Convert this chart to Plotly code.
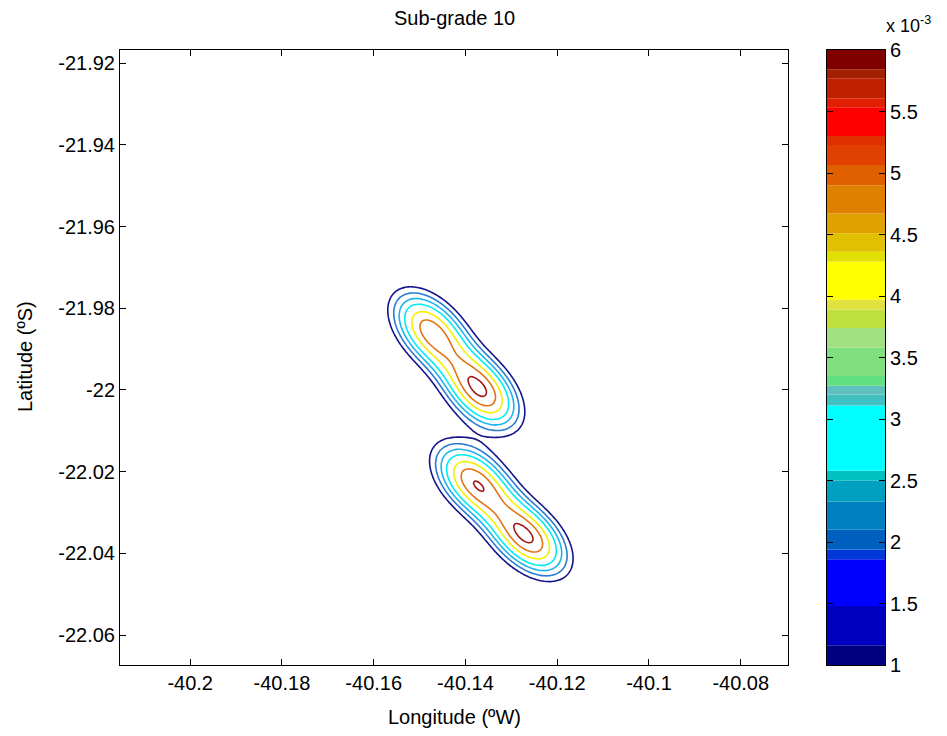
import numpy as np
import plotly.graph_objects as go

# ---------------- data ----------------
# density kernels (centre lon/lat, weight) of the two patches
lobe_lon = [-40.14771, -40.142155, -40.13660, -40.13813, -40.13225, -40.12637]
lobe_lat = [-21.98534, -21.99282, -22.00030, -22.02233, -22.02929, -22.03625]
lobe_amp = [5.13e-3, 0.80e-3, 5.70e-3, 5.42e-3, 0.72e-3, 5.66e-3]
lobe_blob = [0, 0, 0, 1, 1, 1]
sigma_along = 0.0069
sigma_across = 0.0041

contour_levels = [1.12e-3, 1.68e-3, 2.31e-3, 3.03e-3, 4.0e-3, 4.95e-3, 5.9e-3]
contour_colors = ["#14148c", "#2a7cd0", "#1cb4ec", "#00ecf0",
                  "#f2f200", "#e27412", "#a01818"]

cb_edges = [1.0, 1.16, 1.48, 1.86, 1.94, 2.10, 2.33, 2.50, 2.58, 3.11, 3.20,
            3.27, 3.35, 3.58, 3.74, 3.89, 3.97, 4.28, 4.36, 4.51, 4.67, 4.90,
            5.065, 5.228, 5.30, 5.534, 5.607, 5.77, 5.843, 6.0]
cb_colors = ["#000080", "#0000c0", "#0000ff", "#0038d8", "#0060c0", "#0080c0",
             "#00a0c0", "#00c0c0", "#00ffff", "#40c0c0", "#60c0c0", "#60e080",
             "#80e080", "#a0e080", "#c0e040", "#e0e040", "#ffff00", "#e0e000",
             "#e0c000", "#e0a000", "#e08000", "#e06000", "#e04000", "#e03000",
             "#ff0000", "#e02000", "#c02000", "#a02000", "#800000"]
cb_tickvals = [1, 1.5, 2, 2.5, 3, 3.5, 4, 4.5, 5, 5.5, 6]
cb_ticktext = ["1", "1.5", "2", "2.5", "3", "3.5", "4", "4.5", "5", "5.5", "6"]

x_tickvals = [-40.2, -40.18, -40.16, -40.14, -40.12, -40.1, -40.08]
x_ticktext = ["-40.2", "-40.18", "-40.16", "-40.14", "-40.12", "-40.1", "-40.08"]
y_tickvals = [-21.92, -21.94, -21.96, -21.98, -22.0, -22.02, -22.04, -22.06]
y_ticktext = ["-21.92", "-21.94", "-21.96", "-21.98", "-22", "-22.02", "-22.04", "-22.06"]

x_range = [-40.2153, -40.0697]
y_range = [-22.0673, -21.9168]

# ---------------- density field ----------------
lon = np.linspace(x_range[0], x_range[1], 360)
lat = np.linspace(y_range[0], y_range[1], 370)
LON, LAT = np.meshgrid(lon, lat)
Z = np.zeros_like(LON)
for blob in sorted(set(lobe_blob)):
    idx = [i for i, b in enumerate(lobe_blob) if b == blob]
    dx = lobe_lon[idx[-1]] - lobe_lon[idx[0]]
    dy = lobe_lat[idx[-1]] - lobe_lat[idx[0]]
    n = np.hypot(dx, dy)
    ex, ey = dx / n, dy / n
    for i in idx:
        du = LON - lobe_lon[i]
        dv = LAT - lobe_lat[i]
        a = du * ex + dv * ey
        b = -du * ey + dv * ex
        Z += lobe_amp[i] * np.exp(-a**2 / (2 * sigma_along**2) - b**2 / (2 * sigma_across**2))

FONT = "Liberation Sans, Arial, sans-serif"
W, H = 947, 736
fig = go.Figure()

for lev, col in zip(contour_levels, contour_colors):
    fig.add_trace(go.Contour(
        x=lon, y=lat, z=Z, autocontour=False,
        contours=dict(start=lev, end=lev, size=1e-3, coloring="none"),
        line=dict(color=col, width=1.6, smoothing=1),
        showscale=False, hoverinfo="skip", xaxis="x", yaxis="y"))

lows = cb_edges[:-1]
heights = [cb_edges[i + 1] - cb_edges[i] for i in range(len(lows))]
fig.add_trace(go.Bar(
    x=[0] * len(lows), y=heights, base=lows, width=1,
    marker=dict(color=cb_colors, line=dict(width=0)),
    xaxis="x2", yaxis="y2", hoverinfo="skip", showlegend=False))

px = lambda p: p / W
py = lambda p: 1 - p / H

axis_common = dict(showline=True, linecolor="black", linewidth=1, mirror="ticks",
                   ticks="inside", ticklen=6, tickcolor="black", showgrid=False,
                   zeroline=False, automargin=False,
                   tickfont=dict(family=FONT, size=20, color="black"))

fig.update_layout(
    width=W, height=H, autosize=False, margin=dict(l=0, r=0, t=0, b=0, pad=0),
    paper_bgcolor="white", plot_bgcolor="white", showlegend=False,
    barmode="overlay",
    xaxis=dict(domain=[px(120), px(788)], range=x_range, tickvals=x_tickvals,
               ticktext=x_ticktext, **axis_common),
    yaxis=dict(domain=[py(665), py(50)], range=y_range, tickvals=y_tickvals,
               ticktext=y_ticktext, **axis_common),
    xaxis2=dict(domain=[px(827), px(885)], range=[-0.5, 0.5], anchor="y2",
                showline=True, linecolor="black", linewidth=1, mirror=True,
                showticklabels=False, ticks="", showgrid=False, zeroline=False,
                automargin=False),
    yaxis2=dict(domain=[py(665), py(50)], range=[1, 6], anchor="x2", side="right",
                tickvals=cb_tickvals, ticktext=cb_ticktext, **axis_common),
    annotations=[
        dict(text="Sub-grade 10", x=px(454), y=py(18), xref="paper", yref="paper",
             showarrow=False, xanchor="center", yanchor="middle",
             font=dict(family=FONT, size=20, color="black")),
        dict(text="Longitude (ºW)", x=px(454), y=py(717), xref="paper", yref="paper",
             showarrow=False, xanchor="center", yanchor="middle",
             font=dict(family=FONT, size=20, color="black")),
        dict(text="Latitude (ºS)", x=px(25), y=py(357), xref="paper", yref="paper",
             showarrow=False, xanchor="center", yanchor="middle", textangle=-90,
             font=dict(family=FONT, size=20, color="black")),
        dict(text="x 10<sup>-3</sup>", x=px(884), y=py(38), xref="paper", yref="paper",
             showarrow=False, xanchor="left", yanchor="bottom",
             font=dict(family=FONT, size=18, color="black")),
    ],
)

fig.write_html("out.html")
